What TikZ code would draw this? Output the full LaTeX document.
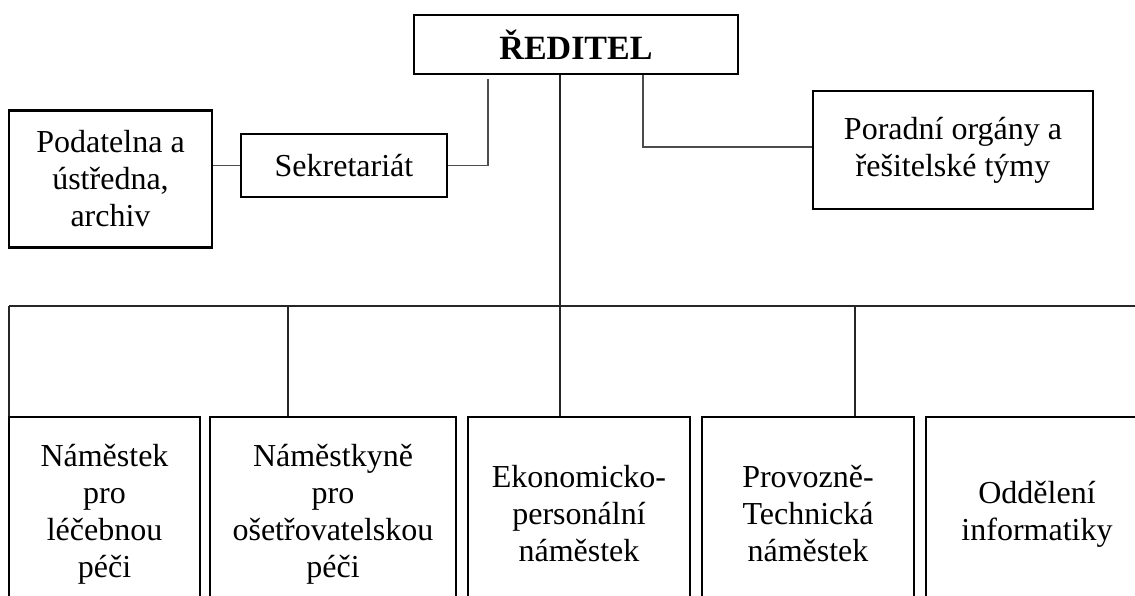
\documentclass[tikz,border=0pt]{standalone}
\usepackage{fontspec}
\setmainfont{Liberation Serif}
\begin{document}
\begin{tikzpicture}[x=1pt,y=-1pt,
  unit/.style={draw=black,line width=2.9pt,inner sep=0pt,align=center,
    font=\fontsize{32}{37}\selectfont},
  link/.style={line width=1.2pt,draw=black!85}]
\useasboundingbox (0,0) rectangle (1135,596);
\clip (0,0) rectangle (1135,596);

% director and staff units
\node[unit,minimum width=324pt,minimum height=59pt,font=\fontsize{34}{38}\selectfont\bfseries] (red) at (576,44.5) {ŘEDITEL};
\node[unit,minimum width=203pt,minimum height=137pt] (pod) at (110.5,179) {Podatelna a\\ústředna,\\archiv};
\node[unit,minimum width=206pt,minimum height=63pt] (sek) at (344,165.5) {Sekretariát};
\node[unit,minimum width=280pt,minimum height=118pt] (por) at (953,150) {Poradní orgány a\\řešitelské týmy};

% deputies
\node[unit,minimum width=191pt,minimum height=194pt] (b1) at (104.5,514) {Náměstek\\pro\\léčebnou\\péči};
\node[unit,minimum width=246pt,minimum height=194pt] (b2) at (333,514) {Náměstkyně\\pro\\ošetřovatelskou\\péči};
\node[unit,minimum width=222pt,minimum height=194pt] (b3) at (579,514) {Ekonomicko-\\personální\\náměstek};
\node[unit,minimum width=212pt,minimum height=194pt] (b4) at (808,514) {Provozně-\\Technická\\náměstek};
\node[unit,minimum width=222pt,minimum height=194pt] (b5) at (1037,514) {Oddělení\\informatiky};

% connector anchor points
\coordinate (sekup) at (488,79);
\coordinate (porup) at (643,75);
\coordinate (trunk) at (560,75);
\coordinate (busL) at (9,306);
\coordinate (busR) at (1135,306);

% staff connectors
\draw[link,draw=black!70,line width=1.6pt] (sek.east) -| (sekup);
\draw[link,draw=black!70,line width=1.6pt] (sek.west) -- (sek.west -| pod.east);
\draw[link,draw=black!70,line width=1.6pt] ([yshift=3pt]por.west) -| (porup);

% line of command down to the deputies
\draw[link] (trunk) -- (trunk |- busL);
\draw[link] (busL) -- (busR);
\draw[link] (busL) -- (busL |- b1.north);
\draw[link] (b2.north -| 288,0) -- (busL -| 288,0);
\draw[link] (b3.north -| trunk) -- (busL -| trunk);
\draw[link] (b4.north -| 855,0) -- (busL -| 855,0);
\end{tikzpicture}
\end{document}
